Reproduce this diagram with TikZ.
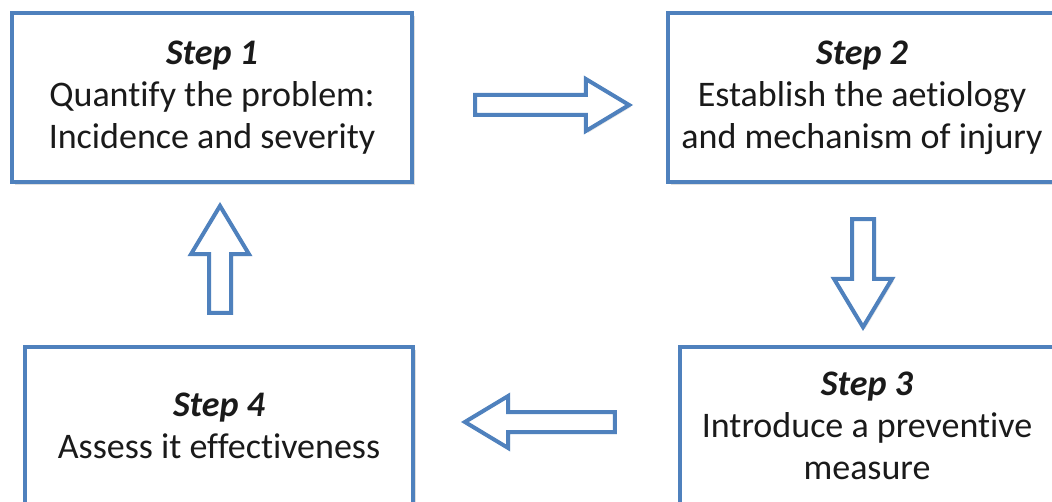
\documentclass[tikz,border=0pt]{standalone}
\usepackage{fontspec}
\setmainfont{Carlito}[Ligatures=NoCommon]
\usetikzlibrary{shapes.arrows,shadows}
\definecolor{stepblue}{RGB}{79,129,189}
\definecolor{steptext}{RGB}{26,26,26}

\begin{document}
\begin{tikzpicture}[
  x=1pt, y=-1pt,
  stepbox/.style={draw=stepblue, line width=4pt, fill=white, inner sep=0pt,
    align=center, text=steptext, font=\fontsize{36}{42}\selectfont,
    drop shadow={opacity=0.25, shadow xshift=3pt, shadow yshift=-3pt}},
  blockarrow/.style={shape=single arrow, draw=stepblue, line width=4pt, fill=white,
    inner xsep=0pt, inner ysep=8pt, single arrow head extend=16pt,
    single arrow tip angle=62, anchor=tip,
    drop shadow={opacity=0.2, shadow xshift=2pt, shadow yshift=-2pt}}
]
  \useasboundingbox (0,0) rectangle (1052,502);

  % === STEPS ===
  \node[stepbox, minimum width=400pt, minimum height=169pt] (step1) at (212, 97.5)
    {\textbf{\textit{Step 1}}\\Quantify the problem:\\Incidence and severity};
  \node[stepbox, minimum width=388pt, minimum height=169pt] (step2) at (862, 97.5)
    {\textbf{\textit{Step 2}}\\Establish the aetiology\\and mechanism of injury};
  \node[stepbox, minimum width=374pt, minimum height=158pt] (step3) at (867, 426)
    {\textbf{\textit{Step 3}}\\Introduce a preventive\\measure};
  \node[stepbox, minimum width=388pt, minimum height=158pt] (step4) at (219, 426)
    {\textbf{\textit{Step 4}}\\Assess it effectiveness};

  % === BLOCK ARROWS (placed by their tips) ===
  \node[blockarrow, minimum height=154pt] (a12) at (633, 105) {};
  \node[blockarrow, minimum height=108pt, inner ysep=9pt, single arrow head extend=18pt,
    rotate=-90] (a23) at (863, 331) {};
  \node[blockarrow, minimum height=150pt, rotate=180] (a34) at (461, 422) {};
  \node[blockarrow, minimum height=107pt, inner ysep=9pt, single arrow head extend=18pt,
    rotate=90] (a41) at (220, 202) {};
\end{tikzpicture}
\end{document}
